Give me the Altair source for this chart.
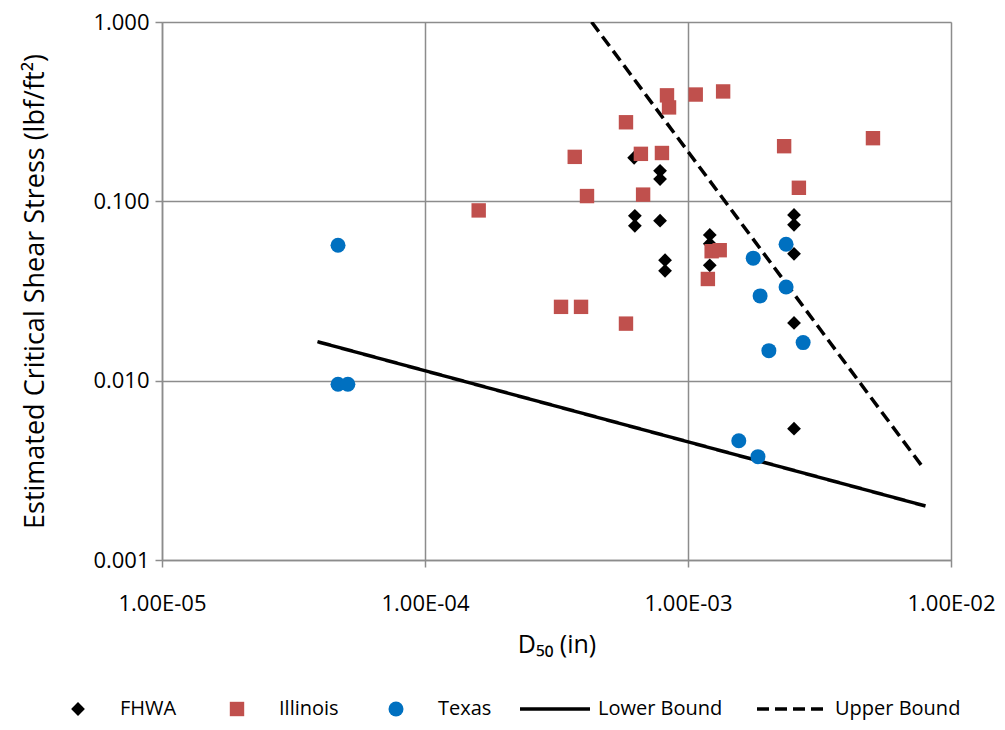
import json
import altair as alt
import pandas as pd

# ---------------- data ----------------
series_names = ["FHWA", "Illinois", "Texas"]
series_colors = ["#000000", "#C0504D", "#0070C0"]
series_shapes = ["diamond", "square", "circle"]
series_sizes = [190, 225, 225]

fhwa_x = [6.24e-4, 6.28e-4, 6.28e-4, 7.83e-4, 7.83e-4, 7.83e-4, 8.18e-4, 8.18e-4,
          1.21e-3, 1.21e-3, 1.21e-3, 2.53e-3, 2.53e-3, 2.53e-3, 2.53e-3, 2.53e-3]
fhwa_y = [0.175, 0.083, 0.073, 0.148, 0.133, 0.078, 0.047, 0.041,
          0.065, 0.058, 0.044, 0.084, 0.074, 0.051, 0.021, 0.0054]

illinois_x = [1.60e-4, 3.29e-4, 3.92e-4, 3.71e-4, 4.13e-4, 5.81e-4, 5.81e-4, 6.62e-4,
              6.75e-4, 7.96e-4, 8.32e-4, 8.47e-4, 1.07e-3, 1.36e-3, 1.19e-3, 1.23e-3,
              1.32e-3, 2.32e-3, 2.64e-3, 5.05e-3]
illinois_y = [0.089, 0.0258, 0.0258, 0.177, 0.107, 0.276, 0.0208, 0.184,
              0.109, 0.186, 0.39, 0.334, 0.394, 0.41, 0.0369, 0.0527,
              0.0534, 0.203, 0.119, 0.225]

texas_x = [4.67e-5, 4.67e-5, 5.09e-5, 1.77e-3, 2.36e-3, 1.88e-3, 2.36e-3, 2.74e-3,
           2.03e-3, 1.56e-3, 1.845e-3]
texas_y = [0.0569, 0.00955, 0.00955, 0.0482, 0.0576, 0.0297, 0.0333, 0.0163,
           0.0147, 0.00462, 0.00377]

bound_names = ["Lower Bound", "Upper Bound"]
lower_x = [3.9e-5, 8.0e-3]
lower_y = [0.0165, 0.0020]
upper_x = [4.3e-4, 7.8e-3]
upper_y = [1.0, 0.0033]

x_ticks = [1e-5, 1e-4, 1e-3, 1e-2]
x_tick_labels = ["1.00E-05", "1.00E-04", "1.00E-03", "1.00E-02"]
y_ticks = [0.001, 0.01, 0.1, 1.0]

x_title = "D\u2085\u2080 (in)"
y_title = "Estimated Critical Shear Stress (lbf/ft\u00b2)"

# ---------------- tables ----------------
rows = []
for name, xs, ys in zip(series_names, [fhwa_x, illinois_x, texas_x], [fhwa_y, illinois_y, texas_y]):
    for a, b in zip(xs, ys):
        rows.append({"series": name, "x": a, "y": b})
pts = pd.DataFrame(rows)

lrows = []
for name, xs, ys in zip(bound_names, [lower_x, upper_x], [lower_y, upper_y]):
    for i, (a, b) in enumerate(zip(xs, ys)):
        lrows.append({"bound": name, "x": a, "y": b, "o": i})
lines_df = pd.DataFrame(lrows)

FONT = "Open Sans"
GRID = "#8c8c8c"
W, H = 789, 538
TOP = 14

xscale = alt.Scale(type="log", domain=[1e-5, 1e-2], nice=False)
yscale = alt.Scale(type="log", domain=[0.001, 1.0], nice=False)

label_expr = json.dumps(x_tick_labels) + "[round(log(datum.value)/LN10)+5]"

xaxis = alt.Axis(values=x_ticks, labelExpr=label_expr, grid=True, gridColor=GRID, gridWidth=1.5,
                 domainColor=GRID, domainWidth=1.5, tickColor=GRID, tickWidth=1.5, tickSize=7,
                 labelFontSize=22, labelPadding=26, labelFlush=False, labelColor="black",
                 labelFont=FONT, title=x_title, titleFont=FONT, titleFontSize=25,
                 titleFontWeight="normal", titleColor="black", titleX=W / 2, titleY=92,
                 titleAlign="center", titleBaseline="alphabetic")
yaxis = alt.Axis(values=y_ticks, format=".3f", grid=True, gridColor=GRID, gridWidth=1.5,
                 domainColor=GRID, domainWidth=1.5, tickColor=GRID, tickWidth=1.5, tickSize=7,
                 labelFontSize=22, labelPadding=6, labelFlush=False, labelColor="black",
                 labelFont=FONT, title=y_title, titleFont=FONT, titleFontSize=27,
                 titleFontWeight="normal", titleColor="black", titleX=-127, titleY=H / 2,
                 titleAngle=270, titleAlign="center", titleBaseline="middle")

pt_legend = alt.Legend(orient="none", legendX=-94, legendY=677, direction="horizontal",
                       columns=3, title=None, labelFontSize=20, labelFont=FONT,
                       labelColor="black", labelOffset=32, columnPadding=47,
                       symbolSize=200, symbolStrokeWidth=0, gridAlign="all", padding=0)

lines = alt.Chart(lines_df).mark_line(color="black", strokeWidth=3.5, clip=True).encode(
    x=alt.X("x:Q", scale=xscale, axis=xaxis),
    y=alt.Y("y:Q", scale=yscale, axis=yaxis),
    order="o:Q",
    strokeDash=alt.StrokeDash(
        "bound:N",
        scale=alt.Scale(domain=bound_names, range=[[1, 0], [12, 6]]),
        legend=alt.Legend(orient="none", legendX=356, legendY=650, direction="horizontal",
                          columns=2, title=None, labelFontSize=20, labelFont=FONT,
                          labelColor="black", labelOffset=6, columnPadding=27,
                          symbolType="stroke", symbolSize=4900, symbolStrokeWidth=3.5,
                          symbolStrokeColor="black", padding=0),
    ),
)

points = alt.Chart(pts).mark_point(filled=True, opacity=1, strokeWidth=0).encode(
    x=alt.X("x:Q", scale=xscale),
    y=alt.Y("y:Q", scale=yscale),
    color=alt.Color("series:N", scale=alt.Scale(domain=series_names, range=series_colors),
                    legend=pt_legend),
    shape=alt.Shape("series:N", scale=alt.Scale(domain=series_names, range=series_shapes),
                    legend=pt_legend),
    size=alt.Size("series:N", scale=alt.Scale(domain=series_names, range=series_sizes),
                  legend=None),
)

chart = alt.layer(lines, points).properties(
    width=W, height=H,
    autosize=alt.AutoSizeParams(type="none"),
    padding={"left": 154, "top": TOP, "right": 46, "bottom": 162},
    background="white",
).configure_view(strokeWidth=0).configure(font=FONT)

chart.save("out.html", embed_options={"renderer": "svg", "actions": False})
